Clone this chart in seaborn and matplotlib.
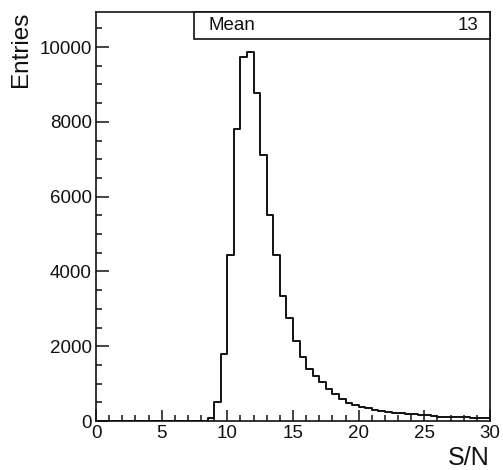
import numpy as np
import pandas as pd
import matplotlib
matplotlib.use("Agg")
import matplotlib.pyplot as plt
from matplotlib.patches import Rectangle
from matplotlib.ticker import MultipleLocator
import seaborn as sns

# Signal-to-noise histogram: 60 bins of width 0.5 from 0 to 30
bin_width = 0.5
x_range = (0.0, 30.0)
counts = [
    0, 0, 0, 0, 0, 0, 0, 0, 0, 0,            # 0.0 - 5.0
    0, 0, 0, 0, 0, 0, 5, 80, 520, 1790,      # 5.0 - 10.0
    4450, 7800, 9720, 9880, 8760, 7110, 5520, 4430, 3350, 2750,  # 10.0 - 15.0
    2150, 1720, 1390, 1190, 1030, 860, 715, 590, 490, 420,       # 15.0 - 20.0
    383, 340, 300, 270, 245, 225, 208, 190, 175, 160,            # 20.0 - 25.0
    150, 135, 120, 115, 110, 105, 95, 90, 75, 70,                # 25.0 - 30.0
]
x_label = "S/N"
y_label = "Entries"
stat_name = "Mean"

centers = x_range[0] + bin_width * (np.arange(len(counts)) + 0.5)
df = pd.DataFrame({"sn": centers, "entries": counts})
mean_value = np.average(df["sn"], weights=df["entries"])

sns.set_theme(style="white")
plt.rcParams["font.family"] = ["Liberation Sans", "DejaVu Sans"]
plt.rcParams["text.color"] = "#111111"
plt.rcParams["axes.labelcolor"] = "#111111"

fig = plt.figure(figsize=(5.03, 4.70), dpi=100)
ax = fig.add_axes([96 / 503, 1 - 421 / 470, 394 / 503, (421 - 11.5) / 470])

sns.histplot(data=df, x="sn", weights="entries", binwidth=bin_width,
             binrange=x_range, element="step", fill=False, color="#111111",
             linewidth=1.4, ax=ax)

ax.set_xlim(*x_range)
ax.set_ylim(0, 10950)

ax.xaxis.set_major_locator(MultipleLocator(5))
ax.xaxis.set_minor_locator(MultipleLocator(1))
ax.yaxis.set_major_locator(MultipleLocator(2000))
ax.yaxis.set_minor_locator(MultipleLocator(500))
ax.tick_params(which="both", direction="in", bottom=True, left=True,
               top=False, right=False, colors="#111111", labelsize=13.5,
               width=1.1)
ax.tick_params(axis="x", which="major", length=8, pad=3)
ax.tick_params(axis="x", which="minor", length=4)
ax.tick_params(axis="y", which="major", length=9.5, pad=3)
ax.tick_params(axis="y", which="minor", length=4.5)

for side in ["left", "right", "top", "bottom"]:
    ax.spines[side].set_visible(True)
    ax.spines[side].set_color("#111111")
    ax.spines[side].set_linewidth(1.2)

ax.set_xlabel(x_label, fontsize=18, loc="right")
ax.xaxis.set_label_coords(1.0, -0.062)
ax.set_ylabel(y_label, fontsize=17.5, loc="top")
ax.yaxis.set_label_coords(-0.163, 1.0)

# Statistics box in the upper right corner
box_left = (194 - 96) / 394
box_bottom = (421 - 38.5) / (421 - 11.5)
ax.add_patch(Rectangle((box_left, box_bottom), 1 - box_left, 1 - box_bottom,
                       transform=ax.transAxes, facecolor="white",
                       edgecolor="#111111", linewidth=1.2, clip_on=False,
                       zorder=5))
ax.text((209 - 96) / 394, (1 + box_bottom) / 2, stat_name,
        transform=ax.transAxes, ha="left", va="center", fontsize=13.5, zorder=6)
ax.text((478 - 96) / 394, (1 + box_bottom) / 2, f"{mean_value:.2g}",
        transform=ax.transAxes, ha="right", va="center", fontsize=13.5, zorder=6)

fig.savefig("out.png", dpi=100)
